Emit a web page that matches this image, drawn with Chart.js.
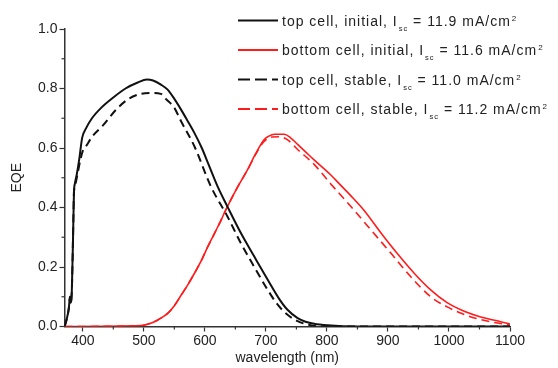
<!DOCTYPE html>
<html>
<head>
<meta charset="utf-8">
<script src="https://cdn.jsdelivr.net/npm/chart.js@4"></script>
<style>
html,body{margin:0;padding:0;background:#fff;}
#c{display:block;}
</style>
</head>
<body>
<canvas id="c" width="558" height="368"></canvas>
<script>
// ---- data ----
const topInitWl  = [370, 373, 377, 379, 380, 382, 384, 385.5, 387, 390, 394, 399, 405, 415, 430, 450, 470, 490, 505, 515, 528, 539, 550, 561, 572, 583, 595, 605, 621, 637, 659, 681, 703, 722, 735, 752, 765, 779, 801, 850, 1100];
const topInitEqe = [0, 0.02, 0.06, 0.10, 0.08, 0.12, 0.30, 0.45, 0.48, 0.51, 0.56, 0.635, 0.665, 0.70, 0.735, 0.77, 0.80, 0.82, 0.83, 0.827, 0.813, 0.796, 0.765, 0.729, 0.69, 0.65, 0.60, 0.55, 0.47, 0.403, 0.314, 0.235, 0.157, 0.092, 0.057, 0.028, 0.016, 0.009, 0.004, 0, 0];

const topStabWl  = [370, 373, 377, 379, 380, 382, 384, 385.5, 388, 392, 396, 400, 405, 416, 433, 455, 475, 495, 510, 528, 536, 550, 561, 583, 610, 637, 659, 681, 703, 719, 735, 752, 770, 790, 1100];
const topStabEqe = [0, 0.02, 0.06, 0.10, 0.08, 0.12, 0.30, 0.45, 0.48, 0.52, 0.56, 0.59, 0.605, 0.64, 0.676, 0.73, 0.765, 0.782, 0.785, 0.782, 0.765, 0.735, 0.69, 0.605, 0.47, 0.37, 0.28, 0.20, 0.123, 0.074, 0.04, 0.018, 0.006, 0, 0];

const botInitWl  = [370, 495, 510, 523, 539, 550, 561, 572, 583, 595, 605, 615, 626, 635, 654, 670, 683, 697, 705, 714, 730, 740, 752, 765, 779, 806, 822, 839, 861, 888, 915, 943, 970, 997, 1025, 1052, 1079, 1100];
const botInitEqe = [0, 0.003, 0.01, 0.022, 0.044, 0.07, 0.105, 0.14, 0.179, 0.225, 0.269, 0.31, 0.355, 0.395, 0.47, 0.527, 0.58, 0.628, 0.64, 0.646, 0.646, 0.635, 0.612, 0.587, 0.56, 0.51, 0.476, 0.44, 0.39, 0.316, 0.246, 0.179, 0.123, 0.08, 0.051, 0.032, 0.019, 0.008];

const botStabWl  = [370, 495, 510, 523, 539, 550, 561, 572, 583, 595, 605, 615, 626, 635, 654, 670, 683, 697, 710, 722, 735, 752, 779, 806, 839, 872, 905, 937, 970, 997, 1035, 1070, 1100];
const botStabEqe = [0, 0.003, 0.01, 0.022, 0.044, 0.07, 0.105, 0.14, 0.179, 0.225, 0.269, 0.31, 0.355, 0.395, 0.47, 0.527, 0.578, 0.622, 0.637, 0.638, 0.628, 0.595, 0.545, 0.48, 0.404, 0.325, 0.246, 0.168, 0.10, 0.066, 0.033, 0.015, 0.005];

const xMajorTicks = [400, 500, 600, 700, 800, 900, 1000, 1100];
const xMinorTicks = [450, 550, 650, 750, 850, 950, 1050];
const yMajorTicks = [0, 0.2, 0.4, 0.6, 0.8, 1.0];
const yMinorTicks = [0.1, 0.3, 0.5, 0.7, 0.9];

const legendLabels = [
  ['top cell, initial, I', 'sc', ' = 11.9 mA/cm', '2'],
  ['bottom cell, initial, I', 'sc', ' = 11.6 mA/cm', '2'],
  ['top cell, stable, I', 'sc', ' = 11.0 mA/cm', '2'],
  ['bottom cell, stable, I', 'sc', ' = 11.2 mA/cm', '2']
];

// ---- build ----
const BLACK = '#111111', RED = '#ff1c1c';
const pts = (xs, ys) => xs.map((x, i) => ({x: x, y: ys[i]}));
const series = [
  {data: pts(topInitWl, topInitEqe), borderColor: BLACK, borderWidth: 2, borderDash: []},
  {data: pts(botInitWl, botInitEqe), borderColor: RED, borderWidth: 1.6, borderDash: []},
  {data: pts(topStabWl, topStabEqe), borderColor: BLACK, borderWidth: 2, borderDash: [8, 5]},
  {data: pts(botStabWl, botStabEqe), borderColor: RED, borderWidth: 1.6, borderDash: [8, 5]}
];
series.forEach((s, i) => { s.label = legendLabels[i].join(''); s.pointRadius = 0; s.fill = false; s.cubicInterpolationMode = 'monotone'; });

const FONT = '"Liberation Sans", Arial, sans-serif';
const AX = '#333333';
const TXT = '#222222';

const extras = {
  id: 'extras',
  beforeInit(chart) { try { chart.ctx.letterSpacing = '1px'; } catch (e) {} },
  afterDraw(chart) {
    const ctx = chart.ctx, xs = chart.scales.x, ys = chart.scales.y;
    ctx.save();
    ctx.strokeStyle = AX; ctx.lineWidth = 1.2;
    const yb = ys.getPixelForValue(0);
    xMinorTicks.forEach(v => { const px = xs.getPixelForValue(v); ctx.beginPath(); ctx.moveTo(px, yb); ctx.lineTo(px, yb + 3); ctx.stroke(); });
    const xl = xs.left;
    yMinorTicks.forEach(v => { const py = ys.getPixelForValue(v); ctx.beginPath(); ctx.moveTo(xl, py); ctx.lineTo(xl - 3, py); ctx.stroke(); });
    // legend
    const rowY = [20.5, 50, 79.5, 109];
    chart.data.datasets.forEach((ds, i) => {
      const y = rowY[i];
      ctx.strokeStyle = ds.borderColor; ctx.lineWidth = 2;
      ctx.setLineDash(ds.borderDash.length ? [12, 5] : []);
      ctx.beginPath(); ctx.moveTo(238, y); ctx.lineTo(278, y); ctx.stroke();
      ctx.setLineDash([]);
      const [a, sub, b, sup] = legendLabels[i];
      let x = 282; const base = y + 5;
      ctx.fillStyle = TXT; ctx.textBaseline = 'alphabetic'; ctx.textAlign = 'left';
      try { ctx.letterSpacing = '1px'; } catch (e) {}
      ctx.font = '14px ' + FONT; ctx.fillText(a, x, base); x += ctx.measureText(a).width + 1;
      ctx.font = '7.5px ' + FONT; ctx.fillText(sub, x, base + 5); x += ctx.measureText(sub).width;
      ctx.font = '14px ' + FONT; ctx.fillText(b, x, base); x += ctx.measureText(b).width + 1;
      ctx.font = '8px ' + FONT; ctx.fillText(sup, x, base - 5);
    });
    ctx.restore();
  }
};

new Chart(document.getElementById('c'), {
  type: 'line',
  data: {datasets: series},
  options: {
    responsive: false,
    animation: false,
    events: [],
    layout: {padding: {left: 0, right: 48, top: 29, bottom: 0}},
    plugins: {legend: {display: false}, tooltip: {enabled: false}},
    scales: {
      x: {
        type: 'linear', min: 370, max: 1100,
        afterBuildTicks: s => { s.ticks = xMajorTicks.map(v => ({value: v})); },
        afterFit: s => { s.height = 41.5; },
        ticks: {color: TXT, font: {family: FONT, size: 14}, padding: 1, maxRotation: 0, autoSkip: false, callback: v => String(v)},
        grid: {drawOnChartArea: false, tickLength: 5, color: AX, tickWidth: 1.2},
        border: {color: AX, width: 1.5},
        title: {display: true, text: 'wavelength (nm)', color: TXT, font: {family: FONT, size: 14}, padding: {top: 0, bottom: 1}}
      },
      y: {
        min: 0, max: 1,
        afterBuildTicks: s => { s.ticks = yMajorTicks.map(v => ({value: v})); },
        afterFit: s => { s.width = 64.5; },
        ticks: {color: TXT, font: {family: FONT, size: 14}, padding: 2, callback: v => Number(v).toFixed(1)},
        grid: {drawOnChartArea: false, tickLength: 5, color: AX, tickWidth: 1.2},
        border: {color: AX, width: 1.5},
        title: {display: true, text: 'EQE', color: TXT, font: {family: FONT, size: 14}, padding: {top: 9, bottom: 0}}
      }
    }
  },
  plugins: [extras]
});
</script>
</body>
</html>
